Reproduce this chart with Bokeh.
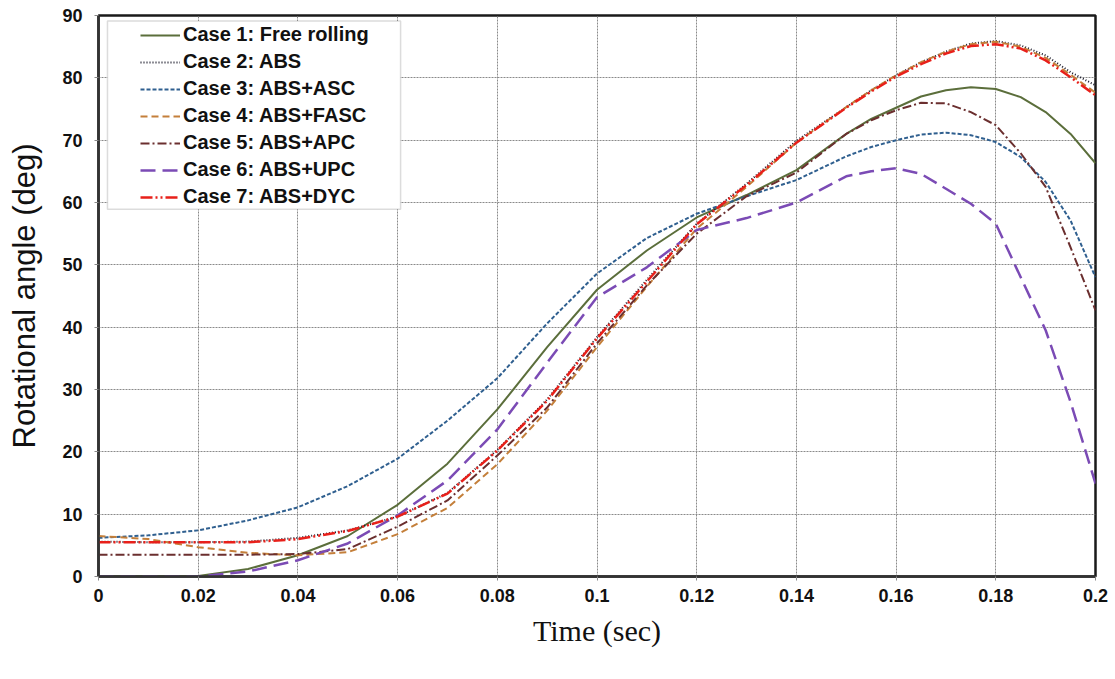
from bokeh.plotting import figure
from bokeh.models import FixedTicker, Legend, LegendItem, BoxAnnotation
from bokeh.embed import file_html
from bokeh.resources import INLINE

time = [0, 0.01, 0.02, 0.03, 0.04, 0.05, 0.06, 0.07, 0.08, 0.09, 0.10,
        0.11, 0.12, 0.13, 0.14, 0.15, 0.155, 0.16, 0.165, 0.17, 0.175,
        0.18, 0.185, 0.19, 0.195, 0.2]

case1 = [0, 0, 0.1, 1.2, 3.4, 6.5, 11.5, 18.1, 26.8, 36.8, 46.0,
         52.3, 57.6, 61.2, 65.2, 71.0, 73.4, 75.2, 77.0, 78.0, 78.5,
         78.2, 76.9, 74.5, 71.0, 66.3]
case2 = [5.6, 5.5, 5.5, 5.6, 6.2, 7.4, 9.6, 13.4, 20.3, 28.4, 38.4,
         47.6, 56.6, 63.0, 69.9, 75.3, 78.0, 80.4, 82.5, 84.2, 85.5,
         85.9, 85.2, 83.6, 80.9, 78.8]
case3 = [6.2, 6.6, 7.4, 9.0, 11.1, 14.5, 18.9, 25.0, 31.8, 40.6, 48.6,
         54.3, 58.2, 61.0, 63.6, 67.4, 68.9, 70.0, 70.9, 71.2, 70.8,
         69.7, 67.3, 63.3, 57.1, 48.0]
case4 = [6.5, 6.0, 4.7, 3.8, 3.4, 3.9, 6.8, 11.0, 18.0, 26.6, 36.8,
         46.5, 55.8, 62.5, 69.6, 75.3, 78.0, 80.4, 82.5, 84.2, 85.4,
         85.8, 85.0, 83.2, 80.5, 77.6]
case5 = [3.5, 3.5, 3.5, 3.5, 3.6, 4.4, 8.0, 12.2, 19.4, 27.1, 37.4,
         46.7, 55.0, 61.0, 64.8, 71.0, 73.2, 74.8, 76.0, 75.9, 74.5,
         72.4, 67.9, 62.5, 52.8, 42.7]
case6 = [0, 0, 0, 0.8, 2.6, 5.3, 9.8, 15.4, 23.6, 34.3, 44.8,
         49.6, 55.6, 57.5, 60.0, 64.2, 65.0, 65.5, 64.6, 62.2, 59.8,
         56.6, 48.0, 39.5, 28.0, 14.9]
case7 = [5.5, 5.5, 5.5, 5.5, 6.0, 7.3, 9.6, 13.3, 20.2, 28.2, 38.2,
         47.3, 56.5, 62.8, 69.6, 75.2, 77.8, 80.2, 82.2, 83.9, 85.1,
         85.4, 84.7, 82.8, 80.1, 77.2]

labels = ["Case 1: Free rolling", "Case 2: ABS", "Case 3: ABS+ASC",
          "Case 4: ABS+FASC", "Case 5: ABS+APC", "Case 6: ABS+UPC",
          "Case 7: ABS+DYC"]

x_ticks = [0, 0.02, 0.04, 0.06, 0.08, 0.1, 0.12, 0.14, 0.16, 0.18, 0.2]
x_tick_labels = ["0", "0.02", "0.04", "0.06", "0.08", "0.1", "0.12",
                 "0.14", "0.16", "0.18", "0.2"]
y_ticks = [0, 10, 20, 30, 40, 50, 60, 70, 80, 90]

p = figure(frame_width=997, frame_height=561, x_range=(0, 0.2), y_range=(0, 90),
           output_backend="svg", toolbar_location=None,
           min_border_left=98, min_border_top=15, min_border_right=15,
           min_border_bottom=20)
p.background_fill_color = "white"
p.border_fill_color = "white"
p.outline_line_color = "#1a1a1a"
p.outline_line_width = 2.5

styles = [
    dict(color="#5b6e3b", dash="solid", w=2),
    dict(color="#1c1c2c", dash="1 2", w=2),
    dict(color="#2f5f8f", dash="4 2", w=2),
    dict(color="#c47f3a", dash="7 4", w=2),
    dict(color="#6b2f2f", dash="9 3 2 3", w=2),
    dict(color="#7b4bb5", dash="15 7", w=2.5),
    dict(color="#e8201a", dash="12 3 2 3 2 3", w=2.5),
]
series = [case1, case2, case3, case4, case5, case6, case7]

renderers = []
for ys, st in zip(series, styles):
    r = p.line(time, ys, line_color=st["color"], line_dash=st["dash"],
               line_width=st["w"], line_join="round")
    renderers.append(r)

box = BoxAnnotation(left=0.0018, right=0.0606, top=89.1, bottom=58.9,
                    fill_color="white", fill_alpha=1.0,
                    line_color="#8a8a8a", line_width=1.5)
p.add_layout(box)

legend = Legend(items=[LegendItem(label=l, renderers=[r]) for l, r in zip(labels, renderers)],
                location=(42, 368), padding=0, spacing=4,
                label_height=20, glyph_height=20, glyph_width=40, label_standoff=3,
                label_text_font="Liberation Sans", label_text_font_style="bold",
                label_text_font_size="20px", label_text_color="#111111",
                border_line_color=None, background_fill_alpha=0.0,
                margin=0)
p.add_layout(legend, "center")

p.xaxis.ticker = FixedTicker(ticks=x_ticks)
p.xaxis.major_label_overrides = {t: s for t, s in zip(x_ticks, x_tick_labels)}
p.yaxis.ticker = FixedTicker(ticks=y_ticks)

for ax in (p.xaxis, p.yaxis):
    ax.major_label_text_font = "Liberation Sans"
    ax.major_label_text_font_style = "bold"
    ax.major_label_text_font_size = "18px"
    ax.major_label_text_color = "#111111"
    ax.minor_tick_line_color = None
    ax.major_tick_in = 0
    ax.major_tick_out = 4
    ax.major_tick_line_color = "#888888"
    ax.axis_line_color = "#333333"
    ax.axis_line_width = 2.5

p.xaxis.major_label_standoff = 8
p.yaxis.major_label_standoff = 12

p.xaxis.axis_label = "Time (sec)"
p.xaxis.axis_label_text_font = "Liberation Serif"
p.xaxis.axis_label_text_font_style = "normal"
p.xaxis.axis_label_text_font_size = "30px"
p.xaxis.axis_label_text_color = "#111111"
p.xaxis.axis_label_standoff = 9

p.yaxis.axis_label = "Rotational angle (deg)"
p.yaxis.axis_label_text_font = "Liberation Sans"
p.yaxis.axis_label_text_font_style = "normal"
p.yaxis.axis_label_text_font_size = "31px"
p.yaxis.axis_label_text_color = "#111111"
p.yaxis.axis_label_standoff = 17

for g in (p.xgrid, p.ygrid):
    g.grid_line_color = "#8a8a8a"
    g.grid_line_dash = "2 1"
    g.grid_line_width = 1
p.xgrid.ticker = FixedTicker(ticks=x_ticks)
p.ygrid.ticker = FixedTicker(ticks=y_ticks)

open("out.html", "w").write(file_html(p, INLINE))
